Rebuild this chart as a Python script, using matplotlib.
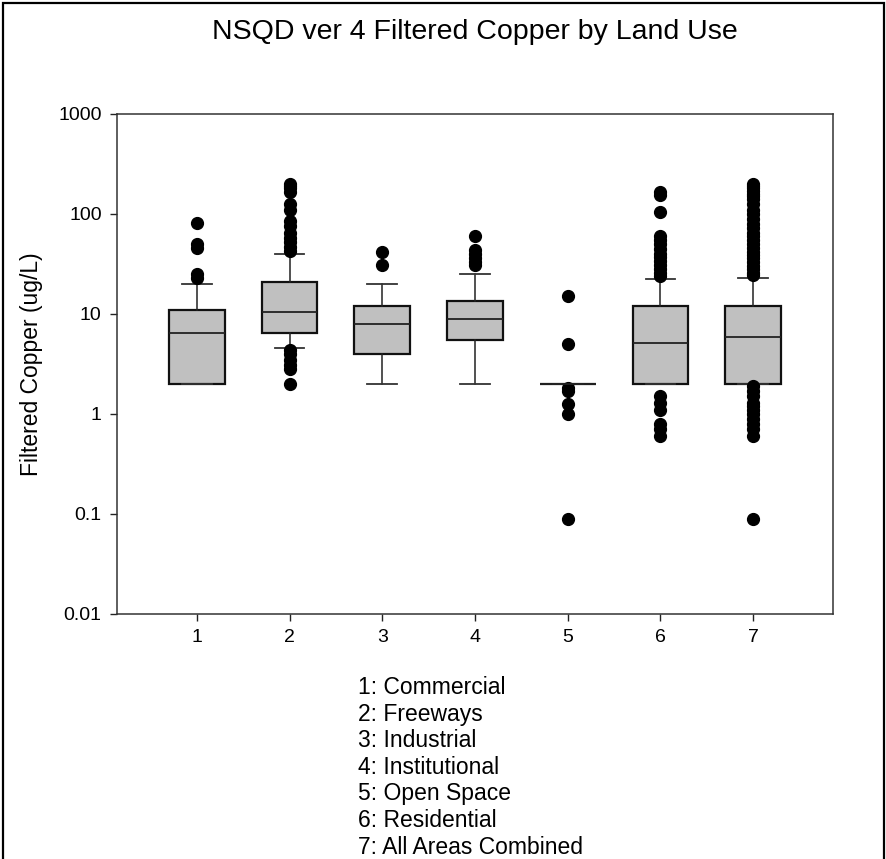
import matplotlib
matplotlib.use('Agg')
import matplotlib.pyplot as plt
from matplotlib.patches import Rectangle

plt.rcParams['font.family'] = ['Liberation Sans', 'DejaVu Sans']

# box statistics (ug/L)
categories = ['1', '2', '3', '4', '5', '6', '7']
names = ['Commercial', 'Freeways', 'Industrial', 'Institutional',
         'Open Space', 'Residential', 'All Areas Combined']
q1 = [2.0, 6.5, 4.0, 5.5, 2.0, 2.0, 2.0]
med = [6.5, 10.5, 8.0, 8.9, 2.0, 5.1, 5.9]
q3 = [11.0, 21.0, 12.0, 13.5, 2.0, 12.0, 12.0]
whislo = [2.0, 4.6, 2.0, 2.0, 2.0, 2.0, 2.0]
whishi = [20.0, 40.0, 20.0, 25.0, 2.0, 22.5, 23.0]
fliers = [
    [81, 50, 46, 25, 23],
    [200, 190, 180, 165, 125, 110, 85, 75, 65, 58, 52, 47, 43,
     4.4, 4.0, 3.5, 3.1, 2.8, 2.0],
    [42, 31],
    [60, 44, 40, 36, 33, 31],
    [15, 5.0, 1.8, 1.7, 1.25, 1.0, 0.09],
    [165, 155, 105, 60, 55, 50, 45, 40, 37, 34, 31, 28, 26, 24,
     1.5, 1.3, 1.1, 0.8, 0.7, 0.6],
    [200, 190, 180, 170, 160, 150, 140, 125, 110, 100, 90, 80, 72, 65,
     60, 55, 50, 46, 42, 39, 36, 33, 30, 28, 26, 24.5,
     1.9, 1.7, 1.5, 1.3, 1.2, 1.1, 1.0, 0.9, 0.8, 0.7, 0.6, 0.09],
]

stats = []
for i in range(len(categories)):
    stats.append(dict(label=categories[i], q1=q1[i], med=med[i], q3=q3[i],
                      whislo=whislo[i], whishi=whishi[i], fliers=fliers[i]))

fig = plt.figure(figsize=(8.87, 8.59), dpi=100)
ax = fig.add_axes([117 / 887, 1 - 614 / 859, 716 / 887, 500 / 859])

positions = list(range(1, len(categories) + 1))
ax.bxp(stats, positions=positions, widths=0.6, capwidths=0.32,
       patch_artist=True,
       boxprops=dict(facecolor='#c0c0c0', edgecolor='#111111', linewidth=1.6),
       medianprops=dict(color='#222222', linewidth=1.3),
       whiskerprops=dict(color='#222222', linewidth=1.1),
       capprops=dict(color='#333333', linewidth=1.3),
       flierprops=dict(marker='o', markerfacecolor='black',
                       markeredgecolor='black', markersize=8.5))

ax.set_yscale('log')
ax.set_ylim(0.01, 1000)
ax.set_xlim(0.14, 7.86)
ax.set_yticks([0.01, 0.1, 1, 10, 100, 1000])
ax.set_yticklabels(['0.01', '0.1', '1', '10', '100', '1000'])
ax.minorticks_off()
ax.set_xticks(positions)
ax.set_xticklabels(categories)
ax.tick_params(axis='both', direction='out', length=5, width=1,
               color='#222222', labelsize=14, pad=6)
for s in ax.spines.values():
    s.set_color('#333333')
    s.set_linewidth(1.1)

ax.set_ylabel('Filtered Copper (ug/L)', fontsize=16.5)
ax.yaxis.set_label_coords(-0.104, 0.5)

fig.text(475 / 887, 1 - 32 / 859, 'NSQD ver 4 Filtered Copper by Land Use',
         ha='center', va='center', fontsize=20.5)

legend_lines = [f'{c}: {n}' for c, n in zip(categories, names)]
fig.text(358 / 887, 1 - 676 / 859, '\n'.join(legend_lines),
         ha='left', va='top', fontsize=16.5, linespacing=1.2)

fig.patches.append(Rectangle((3 / 887, -0.02), 881 / 887, 1.02 - 3 / 859,
                             transform=fig.transFigure, fill=False,
                             edgecolor='black', linewidth=1.6))

fig.savefig('out.png', dpi=100)
